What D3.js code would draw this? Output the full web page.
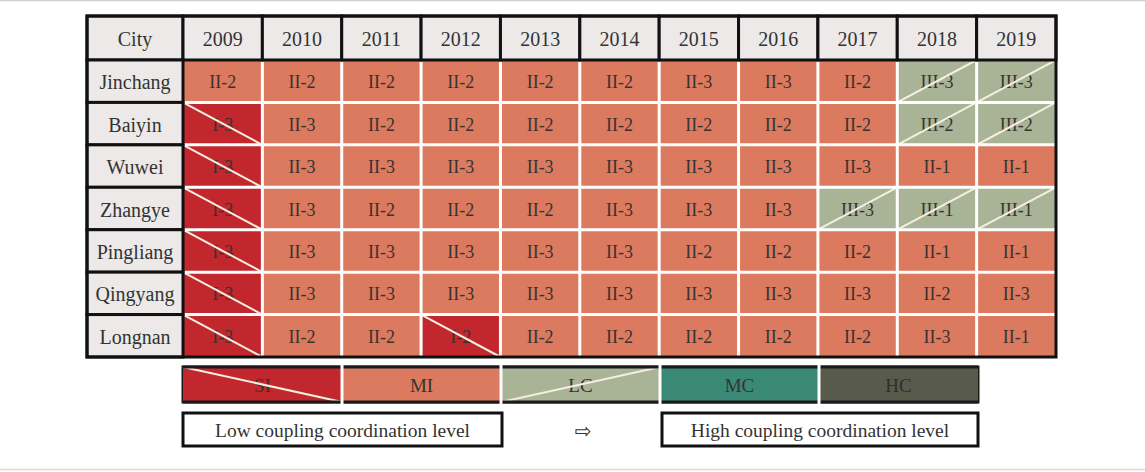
<!DOCTYPE html>
<html>
<head>
<meta charset="utf-8">
<script src="https://cdn.jsdelivr.net/npm/d3@7"></script>
<style>
  html, body { margin: 0; padding: 0; background: #fff; }
</style>
</head>
<body>
<div id="chart"></div>
<script>
const width = 1145;
const height = 472;

// table data
const years = ["2009", "2010", "2011", "2012", "2013", "2014", "2015", "2016", "2017", "2018", "2019"];
const cities = ["Jinchang", "Baiyin", "Wuwei", "Zhangye", "Pingliang", "Qingyang", "Longnan"];
const jinchang = ["II-2", "II-2", "II-2", "II-2", "II-2", "II-2", "II-3", "II-3", "II-2", "III-3", "III-3"];
const baiyin = ["I-3", "II-3", "II-2", "II-2", "II-2", "II-2", "II-2", "II-2", "II-2", "III-2", "III-2"];
const wuwei = ["I-3", "II-3", "II-3", "II-3", "II-3", "II-3", "II-3", "II-3", "II-3", "II-1", "II-1"];
const zhangye = ["I-3", "II-3", "II-2", "II-2", "II-2", "II-3", "II-3", "II-3", "III-3", "III-1", "III-1"];
const pingliang = ["I-3", "II-3", "II-3", "II-3", "II-3", "II-3", "II-2", "II-2", "II-2", "II-1", "II-1"];
const qingyang = ["I-3", "II-3", "II-3", "II-3", "II-3", "II-3", "II-3", "II-3", "II-3", "II-2", "II-3"];
const longnan = ["I-3", "II-2", "II-2", "I-2", "II-2", "II-2", "II-2", "II-2", "II-2", "II-3", "II-1"];
const levels = [jinchang, baiyin, wuwei, zhangye, pingliang, qingyang, longnan];

// legend
const legendKeys = ["SI", "MI", "LC", "MC", "HC"];
const legendColors = ["#c1272c", "#dc7a5f", "#a9b497", "#3a8876", "#585a4b"];

const color = d3.scaleOrdinal().domain(legendKeys).range(legendColors);
const levelClass = code => code.startsWith("III") ? "LC" : code.startsWith("II") ? "MI" : "SI";

const font = "'Liberation Serif', 'Times New Roman', serif";
const textColor = "#383230";

const svg = d3.select("#chart").append("svg")
  .attr("width", width)
  .attr("height", height)
  .attr("font-family", font);

// faint frame lines top and bottom
svg.append("line").attr("x1", 0).attr("x2", width).attr("y1", 0.5).attr("y2", 0.5)
  .attr("stroke", "#cfcfcf").attr("stroke-width", 1.5);
svg.append("line").attr("x1", 0).attr("x2", width).attr("y1", 469.5).attr("y2", 469.5)
  .attr("stroke", "#dcdcdc").attr("stroke-width", 1.5);

const tLeft = 87, tRight = 1056, tTop = 16, headerBottom = 60, tBottom = 357, cityRight = 183;

const x = d3.scaleBand().domain(years).range([cityRight, tRight]);
const y = d3.scaleBand().domain(cities).range([headerBottom, tBottom]);

const cells = [];
cities.forEach((c, i) => years.forEach((yr, j) => cells.push({ city: c, year: yr, code: levels[i][j] })));

// data cells
const cellG = svg.append("g");
cellG.selectAll("rect").data(cells).enter().append("rect")
  .attr("x", d => x(d.year))
  .attr("y", d => y(d.city))
  .attr("width", x.bandwidth())
  .attr("height", y.bandwidth())
  .attr("fill", d => color(levelClass(d.code)));

cellG.selectAll("text").data(cells).enter().append("text")
  .attr("x", d => x(d.year) + x.bandwidth() / 2)
  .attr("y", d => y(d.city) + y.bandwidth() / 2 + 1)
  .attr("text-anchor", "middle")
  .attr("dominant-baseline", "central")
  .attr("font-size", 18)
  .attr("fill", textColor)
  .text(d => d.code);

// diagonals for SI (down) and LC (up)
cellG.selectAll("line.diag").data(cells.filter(d => levelClass(d.code) !== "MI")).enter().append("line")
  .attr("class", "diag")
  .attr("x1", d => x(d.year))
  .attr("x2", d => x(d.year) + x.bandwidth())
  .attr("y1", d => levelClass(d.code) === "SI" ? y(d.city) : y(d.city) + y.bandwidth())
  .attr("y2", d => levelClass(d.code) === "SI" ? y(d.city) + y.bandwidth() : y(d.city))
  .attr("stroke", "#f5efe2")
  .attr("stroke-width", 2);

// white grid between data cells
const grid = svg.append("g").attr("stroke", "#fff").attr("stroke-width", 3);
grid.selectAll("line.v").data(years.slice(1)).enter().append("line")
  .attr("class", "v")
  .attr("x1", d => x(d)).attr("x2", d => x(d))
  .attr("y1", headerBottom).attr("y2", tBottom);
grid.selectAll("line.h").data(cities.slice(1)).enter().append("line")
  .attr("class", "h")
  .attr("y1", d => y(d)).attr("y2", d => y(d))
  .attr("x1", cityRight).attr("x2", tRight);

// header row
const header = svg.append("g");
const headCells = [{ label: "City", x0: tLeft, x1: cityRight }]
  .concat(years.map(yr => ({ label: yr, x0: x(yr), x1: x(yr) + x.bandwidth() })));
header.selectAll("rect").data(headCells).enter().append("rect")
  .attr("x", d => d.x0).attr("y", tTop)
  .attr("width", d => d.x1 - d.x0).attr("height", headerBottom - tTop)
  .attr("fill", "#ece9e8").attr("stroke", "#111").attr("stroke-width", 3);
header.selectAll("text").data(headCells).enter().append("text")
  .attr("x", d => (d.x0 + d.x1) / 2)
  .attr("y", (tTop + headerBottom) / 2 + 1)
  .attr("text-anchor", "middle")
  .attr("dominant-baseline", "central")
  .attr("font-size", 20)
  .attr("fill", "#333")
  .text(d => d.label);

// city column
const cityG = svg.append("g");
cityG.selectAll("rect").data(cities).enter().append("rect")
  .attr("x", tLeft).attr("y", d => y(d))
  .attr("width", cityRight - tLeft).attr("height", y.bandwidth())
  .attr("fill", "#ece9e8").attr("stroke", "#111").attr("stroke-width", 3);
cityG.selectAll("text").data(cities).enter().append("text")
  .attr("x", (tLeft + cityRight) / 2)
  .attr("y", d => y(d) + y.bandwidth() / 2 + 1)
  .attr("text-anchor", "middle")
  .attr("dominant-baseline", "central")
  .attr("font-size", 20)
  .attr("fill", "#333")
  .text(d => d);

// outer border
svg.append("rect")
  .attr("x", tLeft).attr("y", tTop)
  .attr("width", tRight - tLeft).attr("height", tBottom - tTop)
  .attr("fill", "none").attr("stroke", "#111").attr("stroke-width", 3);

// legend row
const lx = d3.scaleBand().domain(legendKeys).range([183, 978]);
const ly0 = 367, ly1 = 402;
const legend = svg.append("g");
legend.append("rect")
  .attr("x", 183).attr("y", ly0).attr("width", 978 - 183).attr("height", ly1 - ly0)
  .attr("fill", "none").attr("stroke", "#1a1a1a").attr("stroke-width", 3);
legend.selectAll("rect.key").data(legendKeys).enter().append("rect")
  .attr("class", "key")
  .attr("x", d => lx(d)).attr("y", ly0)
  .attr("width", lx.bandwidth()).attr("height", ly1 - ly0)
  .attr("fill", d => color(d));
legend.selectAll("text").data(legendKeys).enter().append("text")
  .attr("x", d => lx(d) + lx.bandwidth() / 2)
  .attr("y", (ly0 + ly1) / 2 + 1)
  .attr("text-anchor", "middle")
  .attr("dominant-baseline", "central")
  .attr("font-size", 19)
  .attr("fill", d => d === "HC" ? "#2f2f2a" : textColor)
  .text(d => d);
legend.selectAll("line.diag").data(["SI", "LC"]).enter().append("line")
  .attr("class", "diag")
  .attr("x1", d => lx(d)).attr("x2", d => lx(d) + lx.bandwidth())
  .attr("y1", d => d === "SI" ? ly0 : ly1)
  .attr("y2", d => d === "SI" ? ly1 : ly0)
  .attr("stroke", "#f5efe2").attr("stroke-width", 2);
// top/bottom black edges and white separators
legend.selectAll("line.edge").data([ly0, ly1]).enter().append("line")
  .attr("class", "edge")
  .attr("x1", 183).attr("x2", 978).attr("y1", d => d).attr("y2", d => d)
  .attr("stroke", "#1a1a1a").attr("stroke-width", 3);
legend.selectAll("line.sep").data(legendKeys.slice(1)).enter().append("line")
  .attr("class", "sep")
  .attr("x1", d => lx(d)).attr("x2", d => lx(d))
  .attr("y1", ly0 - 2).attr("y2", ly1 + 2)
  .attr("stroke", "#fff").attr("stroke-width", 3);

// level labels
const labels = [
  { text: "Low coupling coordination level", x0: 183, x1: 502 },
  { text: "High coupling coordination level", x0: 662, x1: 978 }
];
const by0 = 413, by1 = 446;
const lab = svg.append("g");
lab.selectAll("rect").data(labels).enter().append("rect")
  .attr("x", d => d.x0).attr("y", by0)
  .attr("width", d => d.x1 - d.x0).attr("height", by1 - by0)
  .attr("fill", "#fff").attr("stroke", "#111").attr("stroke-width", 3);
lab.selectAll("text").data(labels).enter().append("text")
  .attr("x", d => (d.x0 + d.x1) / 2)
  .attr("y", (by0 + by1) / 2 + 1)
  .attr("text-anchor", "middle")
  .attr("dominant-baseline", "central")
  .attr("font-size", 19.5)
  .attr("fill", "#333")
  .text(d => d.text);

svg.append("text")
  .attr("x", 583).attr("y", (by0 + by1) / 2 + 1)
  .attr("text-anchor", "middle")
  .attr("dominant-baseline", "central")
  .attr("font-family", "'DejaVu Sans', sans-serif")
  .attr("font-size", 20)
  .attr("fill", "#333")
  .text("\u21E8");
</script>
</body>
</html>
